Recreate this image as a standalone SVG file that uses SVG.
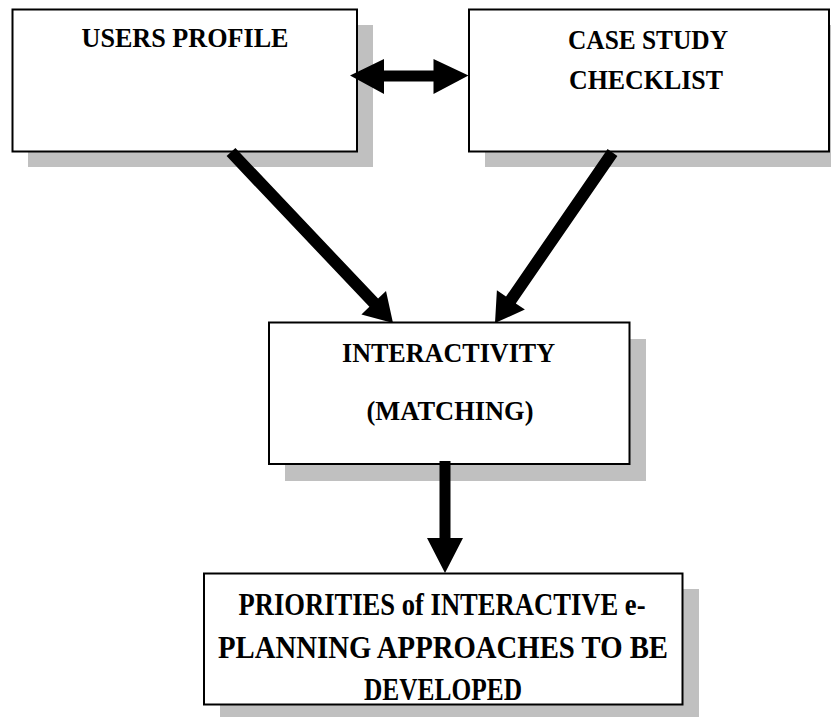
<svg xmlns="http://www.w3.org/2000/svg" width="831" height="717" viewBox="0 0 831 717">
  <style>
    .shadow { fill: #c0c0c0; }
    .box { fill: #ffffff; stroke: #000000; stroke-width: 2; }
    .label { font-family: "Liberation Serif", "Times New Roman", serif; font-weight: bold; fill: #000000; text-anchor: middle; }
    .small { font-size: 28px; }
    .big { font-size: 32px; }
    .arrow { fill: #000000; stroke: none; }
  </style>
  <rect width="831" height="717" fill="#ffffff"/>

  <!-- drop shadows sit under every box -->
  <g id="shadows">
    <rect class="shadow" x="28" y="25" width="345" height="142"/>
    <rect class="shadow" x="485" y="25" width="360" height="142"/>
    <rect class="shadow" x="285" y="339" width="361" height="142"/>
    <rect class="shadow" x="220" y="589" width="479" height="131"/>
  </g>

  <g id="users-profile">
    <rect class="box" x="12.5" y="9.5" width="344.5" height="142"/>
    <text class="label small" x="185" y="47" textLength="207" lengthAdjust="spacingAndGlyphs">USERS PROFILE</text>
  </g>

  <g id="case-study-checklist">
    <rect class="box" x="469" y="9.5" width="360" height="142"/>
    <text class="label small" x="648" y="48.5" textLength="160" lengthAdjust="spacingAndGlyphs">CASE STUDY</text>
    <text class="label small" x="646" y="88.5" textLength="154" lengthAdjust="spacingAndGlyphs">CHECKLIST</text>
  </g>

  <g id="interactivity">
    <rect class="box" x="269" y="322.5" width="360.5" height="141.5"/>
    <text class="label small" x="448.5" y="362" textLength="213" lengthAdjust="spacingAndGlyphs">INTERACTIVITY</text>
    <text class="label small" x="450" y="420" textLength="167" lengthAdjust="spacingAndGlyphs">(MATCHING)</text>
  </g>

  <g id="priorities">
    <rect class="box" x="204" y="573.5" width="478.5" height="131"/>
    <text class="label big" x="442" y="615" textLength="407" lengthAdjust="spacingAndGlyphs">PRIORITIES of INTERACTIVE e-</text>
    <text class="label big" x="443" y="658" textLength="450" lengthAdjust="spacingAndGlyphs">PLANNING APPROACHES TO BE</text>
    <text class="label big" x="443" y="700" textLength="158" lengthAdjust="spacingAndGlyphs">DEVELOPED</text>
  </g>

  <!-- block arrows -->
  <g id="connectors">
    <!-- two-way arrow between the top boxes -->
    <polygon class="arrow" points="350,75.5 384,59 384,70.5 433.5,70.5 433.5,59 468.5,75.5 433.5,94 433.5,81.5 384,81.5 384,94"/>
    <!-- users profile to interactivity -->
    <polygon class="arrow" points="226.6,156.1 235.4,147.9 378.1,298.6 386.0,291.0 393,323 361.4,314.4 369.4,306.8"/>
    <!-- case study checklist to interactivity -->
    <polygon class="arrow" points="617.4,155.9 607.6,149.1 506.0,296.6 496.9,290.3 495,323 524.9,309.6 515.8,303.4"/>
    <!-- interactivity to priorities -->
    <polygon class="arrow" points="439.5,461 450.5,461 450.5,538 463,538 445,573 427,538 439.5,538"/>
  </g>
</svg>
